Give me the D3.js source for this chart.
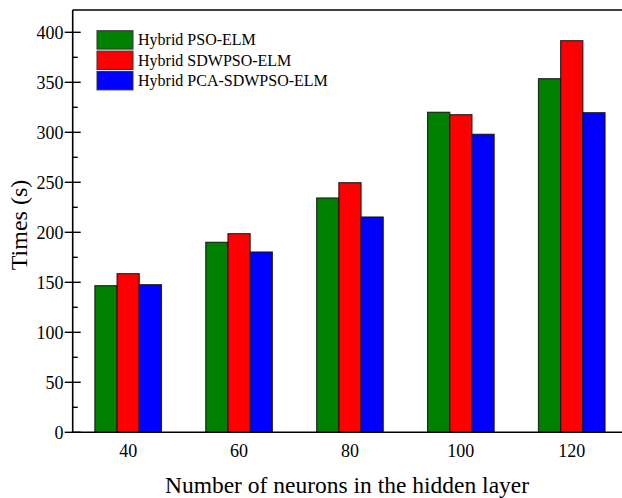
<!DOCTYPE html>
<html>
<head>
<meta charset="utf-8">
<script src="https://cdn.jsdelivr.net/npm/d3@7"></script>
<style>
  html, body { margin: 0; padding: 0; background: #fff; }
  svg { display: block; font-family: "Liberation Serif", "Times New Roman", serif; }
</style>
</head>
<body>
<svg id="chart" width="622" height="498"></svg>
<script>
// Hidden-layer sizes and training times (s) for each hybrid model
const neurons = ["40", "60", "80", "100", "120"];
const seriesNames = ["Hybrid PSO-ELM", "Hybrid SDWPSO-ELM", "Hybrid PCA-SDWPSO-ELM"];
const psoElm = [146.6, 190.0, 234.3, 320.0, 353.6];
const sdwpsoElm = [158.6, 198.6, 249.6, 317.6, 391.6];
const pcaSdwpsoElm = [147.6, 180.3, 215.3, 298.0, 319.6];
const seriesColors = ["#008000", "#ff0000", "#0000ff"];
const yTicks = [0, 50, 100, 150, 200, 250, 300, 350, 400];

const series = [psoElm, sdwpsoElm, pcaSdwpsoElm];

const svg = d3.select("#chart");
const plotLeft = 72.7, plotTop = 10, plotBottom = 432.3;
const step = 110.9;

const x = d3.scaleBand()
  .domain(neurons)
  .range([plotLeft, plotLeft + step * neurons.length])
  .paddingInner(0.4)
  .paddingOuter(0.2);

const xSub = d3.scaleBand()
  .domain(d3.range(series.length))
  .range([0, x.bandwidth()]);

const y = d3.scaleLinear().domain([0, 422.3]).range([plotBottom, plotTop]);

// Bars
const groups = svg.append("g").selectAll("g")
  .data(neurons)
  .join("g")
  .attr("transform", d => `translate(${x(d)},0)`);

groups.selectAll("rect")
  .data((d, i) => series.map((s, k) => ({ k, v: s[i] })))
  .join("rect")
  .attr("x", d => xSub(d.k))
  .attr("y", d => y(d.v))
  .attr("width", xSub.bandwidth())
  .attr("height", d => y(0) - y(d.v))
  .attr("fill", d => seriesColors[d.k])
  .attr("stroke", "#111")
  .attr("stroke-opacity", 0.85)
  .attr("stroke-width", 1.2);

// Frame: top and bottom lines run across the full width
svg.append("line").attr("x1", plotLeft).attr("x2", 640).attr("y1", plotTop).attr("y2", plotTop)
  .attr("stroke", "#000").attr("stroke-width", 1.6);
svg.append("line").attr("x1", plotLeft).attr("x2", 640).attr("y1", plotBottom).attr("y2", plotBottom)
  .attr("stroke", "#000").attr("stroke-width", 1.6);

// Left axis with crossing major ticks and inward minor ticks
const yAxis = svg.append("g");
yAxis.append("line").attr("x1", plotLeft).attr("x2", plotLeft).attr("y1", plotTop).attr("y2", plotBottom)
  .attr("stroke", "#000").attr("stroke-width", 1.6);
yAxis.selectAll("line.major")
  .data(yTicks)
  .join("line")
  .attr("class", "major")
  .attr("x1", plotLeft - 8).attr("x2", plotLeft + 8)
  .attr("y1", d => y(d)).attr("y2", d => y(d))
  .attr("stroke", "#000").attr("stroke-width", 1.4);
yAxis.selectAll("line.minor")
  .data(yTicks.slice(0, -1).map(d => d + 25))
  .join("line")
  .attr("class", "minor")
  .attr("x1", plotLeft).attr("x2", plotLeft + 5)
  .attr("y1", d => y(d)).attr("y2", d => y(d))
  .attr("stroke", "#000").attr("stroke-width", 1.4);
yAxis.selectAll("text")
  .data(yTicks)
  .join("text")
  .attr("x", 63.5)
  .attr("y", d => y(d))
  .attr("dy", "0.35em")
  .attr("text-anchor", "end")
  .attr("font-size", 18)
  .text(d => d);

// Category labels
svg.append("g").selectAll("text")
  .data(neurons)
  .join("text")
  .attr("x", d => x(d) + x.bandwidth() / 2)
  .attr("y", 457)
  .attr("text-anchor", "middle")
  .attr("font-size", 18)
  .text(d => d);

// Axis titles
svg.append("text")
  .attr("x", 347).attr("y", 493)
  .attr("text-anchor", "middle")
  .attr("font-size", 23.5)
  .text("Number of neurons in the hidden layer");

svg.append("text")
  .attr("transform", "translate(27,225) rotate(-90)")
  .attr("text-anchor", "middle")
  .attr("font-size", 24)
  .text("Times (s)");

// Legend
const legend = svg.append("g").selectAll("g")
  .data(seriesNames)
  .join("g")
  .attr("transform", (d, i) => `translate(97,${30.7 + i * 20.4})`);
legend.append("rect")
  .attr("width", 36).attr("height", 18.4)
  .attr("fill", (d, i) => seriesColors[i])
  .attr("stroke", "#333").attr("stroke-width", 1);
legend.append("text")
  .attr("x", 41).attr("y", 14.5)
  .attr("font-size", 16)
  .text(d => d);
</script>
</body>
</html>
